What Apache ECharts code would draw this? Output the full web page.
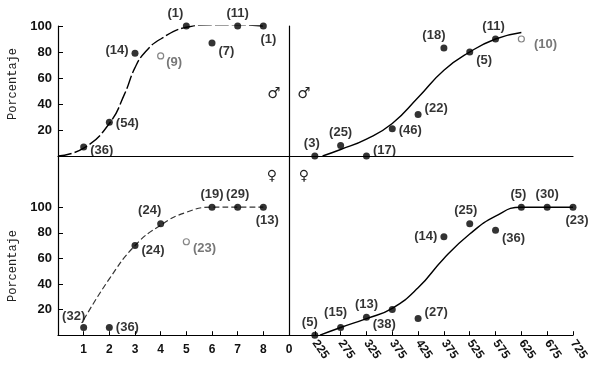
<!DOCTYPE html>
<html><head><meta charset="utf-8">
<script src="https://cdn.jsdelivr.net/npm/echarts@6/dist/echarts.min.js"></script>
<style>html,body{margin:0;padding:0;background:#fff}#c{width:600px;height:370px}</style>
</head><body><div id="c"></div>
<script>
// ---- Data ----
// Top-left: males, by age
const maleAge = [1,2,3,4,5,6,7,8];
const maleAgePct = [7,26,79,77,100,87,100,100];
const maleAgeN = ['(36)','(54)','(14)','(9)','(1)','(7)','(11)','(1)'];
const maleAgeCurveX = [0,1,2,2.6,3,3.4,4,5,6,7,8];
const maleAgeCurveY = [0,6,25,48,68,80,90,99,101,101,100];
// Top-right: males, by length
const maleLen = [225,275,325,375,425,475,525,575,625];
const maleLenPct = [0,8,0,21,32,83,80,90,90];
const maleLenN = ['(3)','(25)','(17)','(46)','(22)','(18)','(5)','(11)','(10)'];
const maleLenCurveX = [240,275,325,375,425,475,525,575,625];
const maleLenCurveY = [0,5,13,25,45,66,80,90,95];
// Bottom-left: females, by age
const femAge = [1,2,3,4,5,6,7,8];
const femAgePct = [6,6,70,87,73,100,100,100];
const femAgeN = ['(32)','(36)','(24)','(24)','(23)','(19)','(29)','(13)'];
const femAgeCurveX = [1,2,3,4,5,6,7,8];
const femAgeCurveY = [12,44,70,86,96,100,100,100];
// Bottom-right: females, by length
const femLen = [225,275,325,375,425,475,525,575,625,675,725];
const femLenPct = [0,6,14,20,13,77,87,82,100,100,100];
const femLenN = ['(5)','(15)','(13)','(38)','(27)','(14)','(25)','(36)','(5)','(30)','(23)'];
const femLenCurveX = [235,275,325,375,425,475,525,575,625,675,725];
const femLenCurveY = [0,6,13,21,37,60,79,93,100,100,100];
// Tick labels
const yTickValues = [20,40,60,80,100];
const ageTickValues = [1,2,3,4,5,6,7,8,9];
const ageTickLabels = ['1','2','3','4','5','6','7','8','0'];
const lenTickValues = [225,275,325,375,425,475,525,575,625,675,725];
const lenTickLabels = ['225','275','325','375','425','375','525','575','625','675','725'];

// ---- Label placements (layout only) ----
const P = {
  maleAge: [['right',[0,4]],['right',[0,1]],['left',[0,-3]],['right',[-1,7]],['top',[-11,0]],['right',[0,9]],['top',[0,0]],['bottom',[5,0]]],
  maleLen: [['top',[-3,0]],['top',[0,0]],['right',[0,-6]],['right',[0,2]],['right',[0,-6]],['top',[-10,0]],['right',[0,8]],['top',[-2,0]],['right',[6,5]]],
  femAge: [['top',[-10,2]],['right',[0,0]],['right',[0,5]],['top',[-11,0]],['right',[0,7]],['top',[0,0]],['top',[0,0]],['bottom',[4,0]]],
  femLen: [['top',[-5,0]],['top',[-5,-2]],['top',[0,0]],['bottom',[-8,2]],['right',[0,-6]],['left',[0,0]],['top',[-4,0]],['right',[0,8]],['top',[-3,0]],['top',[0,0]],['bottom',[4,0]]]
};
const openIdx = {maleAge:[3], maleLen:[8], femAge:[4], femLen:[]};

function pts(xs, ys, ns, key){
  return xs.map((x,i)=>{
    const open = openIdx[key].includes(i);
    return {
      value:[x, ys[i]],
      symbolSize: open ? 6 : 7,
      itemStyle: open ? {color:'#fff', borderColor:'#666', borderWidth:1.2} : {color:'#000'},
      label:{show:true, formatter:ns[i], position:P[key][i][0], offset:P[key][i][1], distance:3,
        color: open ? '#555' : '#000'}
    };
  });
}
function curve(xs, ys){ return xs.map((x,i)=>[x, ys[i]]); }

const FONT = 'Liberation Sans';
const lineStyle = {color:'#000', width:1.4};
function xAxisCfg(gi, min, max, showLabels, values, labels, rotate){
  return {
    type:'value', gridIndex:gi, min, max,
    axisLine:{show:true, lineStyle:{color:'#000', width:1.2}},
    splitLine:{show:false},
    axisTick: showLabels ? {show:true, inside:true, length:4, customValues:values, lineStyle:{color:'#000'}} : {show:false},
    axisLabel: showLabels ? {show:true, customValues:values, rotate:rotate||0, margin:rotate?6:8,
      fontFamily:FONT, fontSize:12, fontWeight:'bold', color:'#111',
      formatter:(v)=>labels[values.indexOf(v)]} : {show:false}
  };
}
function yAxisCfg(gi, max, showLabels){
  return {
    type:'value', gridIndex:gi, min:0, max,
    axisLine:{show:true, onZero:false, lineStyle:{color:'#000', width:1.2}},
    splitLine:{show:false},
    axisTick: showLabels ? {show:true, inside:true, length:5, customValues:yTickValues, lineStyle:{color:'#000'}} : {show:false},
    axisLabel: showLabels ? {show:true, customValues:yTickValues, margin:6, fontFamily:FONT, fontSize:13, fontWeight:'bold', color:'#111'} : {show:false}
  };
}

const chart = echarts.init(document.getElementById('c'), null, {renderer:'canvas'});
const labelFont = {fontFamily:FONT, fontSize:13, fontWeight:'bold'};
function scatter(gi, data){
  return {type:'scatter', xAxisIndex:gi, yAxisIndex:gi, data, z:5, label:labelFont, emphasis:{disabled:true}};
}
function lineS(gi, data, style){
  return {type:'line', xAxisIndex:gi, yAxisIndex:gi, data, smooth:0.5, showSymbol:false, symbol:'none', lineStyle:style, z:3, silent:true};
}
chart.setOption({
  animation:false,
  backgroundColor:'#fff',
  grid:[
    {left:58, top:26, width:231, height:130},
    {left:289, top:26, width:284, height:130},
    {left:58, top:156, width:231, height:179.2},
    {left:289, top:156, width:284, height:179.2}
  ],
  xAxis:[
    xAxisCfg(0,0,9,false),
    xAxisCfg(1,175,725,false),
    xAxisCfg(2,0,9,true,ageTickValues,ageTickLabels,0),
    xAxisCfg(3,175,725,true,lenTickValues,lenTickLabels,-55)
  ],
  yAxis:[
    yAxisCfg(0,100,true),
    yAxisCfg(1,100,false),
    yAxisCfg(2,140,true),
    yAxisCfg(3,140,false)
  ],
  series:[
    lineS(0, curve(maleAgeCurveX, maleAgeCurveY), {color:'#000', width:1.4, type:[14,3]}),
    lineS(1, curve(maleLenCurveX, maleLenCurveY), lineStyle),
    lineS(2, curve(femAgeCurveX, femAgeCurveY), {color:'#333', width:1.2, type:[6,3]}),
    lineS(3, curve(femLenCurveX, femLenCurveY), lineStyle),
    scatter(0, pts(maleAge, maleAgePct, maleAgeN, 'maleAge')),
    scatter(1, pts(maleLen, maleLenPct, maleLenN, 'maleLen')),
    scatter(2, pts(femAge, femAgePct, femAgeN, 'femAge')),
    scatter(3, pts(femLen, femLenPct, femLenN, 'femLen'))
  ],
  graphic:[
    {type:'text', x:13, y:84, rotation:Math.PI/2, style:{text:'Porcentaje', font:'12px "Liberation Mono"', fill:'#222', align:'center', verticalAlign:'middle'}},
    {type:'text', x:13, y:266, rotation:Math.PI/2, style:{text:'Porcentaje', font:'12px "Liberation Mono"', fill:'#222', align:'center', verticalAlign:'middle'}},
    {type:'text', x:274, y:94, style:{text:'♂', font:'15px "DejaVu Sans"', fill:'#222', align:'center', verticalAlign:'middle'}},
    {type:'text', x:304, y:94, style:{text:'♂', font:'15px "DejaVu Sans"', fill:'#222', align:'center', verticalAlign:'middle'}},
    {type:'text', x:272, y:176, style:{text:'♀', font:'14px "DejaVu Sans"', fill:'#222', align:'center', verticalAlign:'middle'}},
    {type:'text', x:304, y:176, style:{text:'♀', font:'14px "DejaVu Sans"', fill:'#222', align:'center', verticalAlign:'middle'}}
  ]
});
</script></body></html>
